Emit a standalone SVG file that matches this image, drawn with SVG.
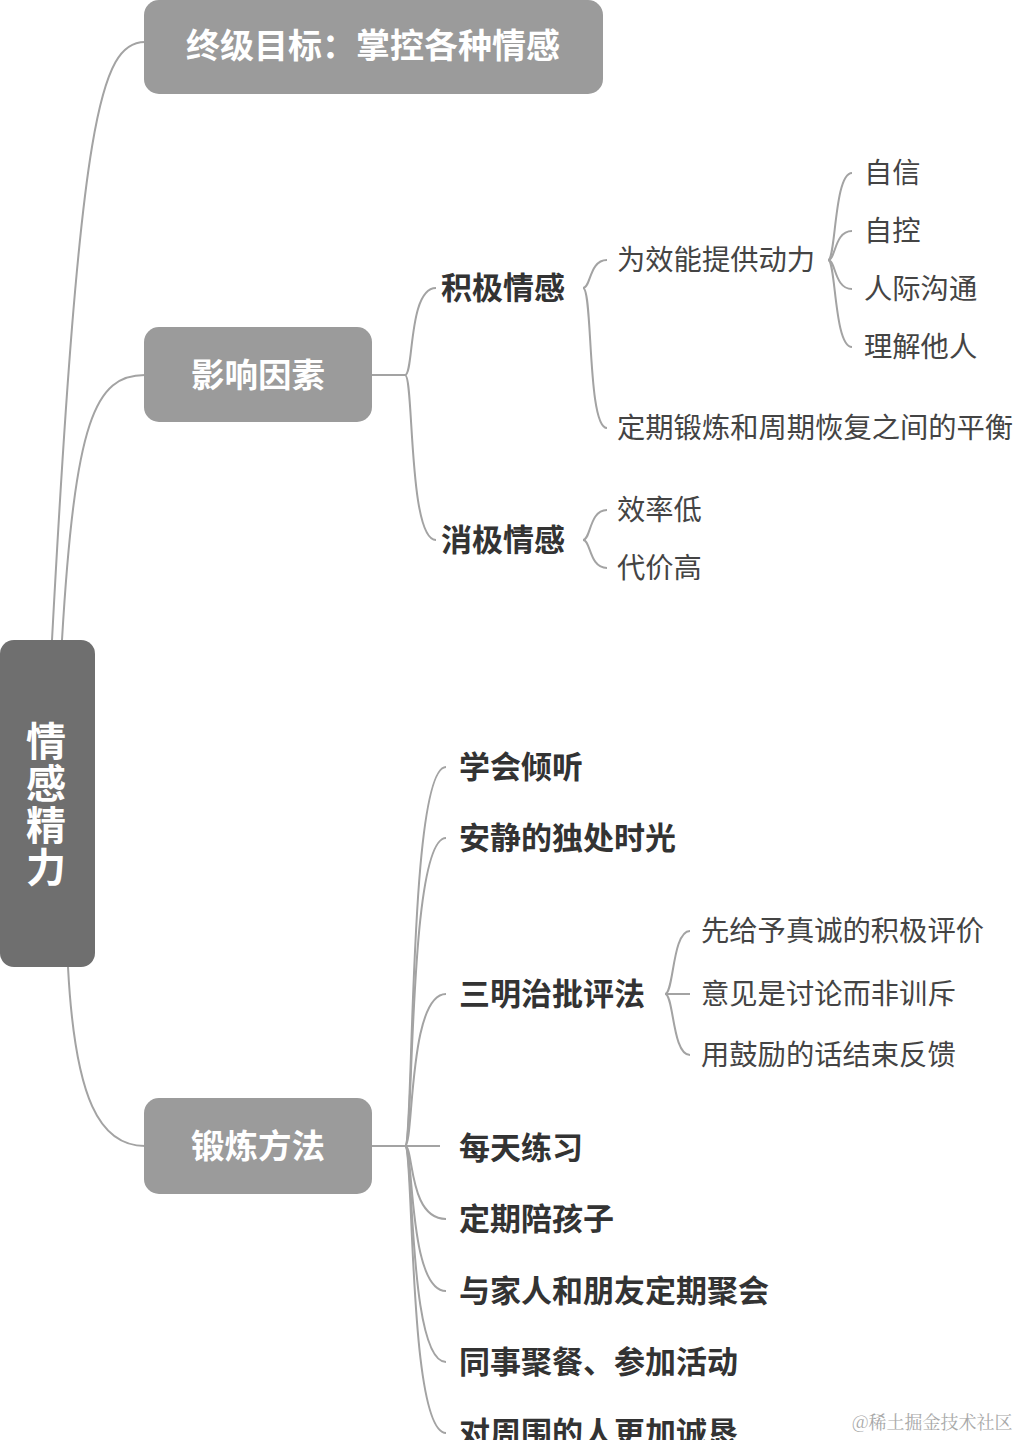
<svg xmlns="http://www.w3.org/2000/svg" width="1018" height="1440" viewBox="0 0 1018 1440">
<style>
.bg{fill:#ffffff}
.root{fill:#6f6f6f}
.main{fill:#9b9b9b}
.lbl-w{font-family:"Noto Sans CJK SC","Noto Sans",sans-serif;fill:#ffffff;font-weight:700}
.sub{font-family:"Noto Sans CJK SC","Noto Sans",sans-serif;fill:#333333;font-weight:700;font-size:31px}
.leaf{font-family:"Noto Sans CJK SC","Noto Sans",sans-serif;fill:#444444;font-size:28.3px}
.wm{font-family:"Noto Serif CJK SC","Noto Sans CJK SC",serif;fill:#a8a8a8;font-size:18px}
.conn path{fill:none;stroke:#a3a3a3;stroke-width:2}
</style>
<rect class="bg" x="0" y="0" width="1018" height="1440"/>
<g id="connectors" class="conn">
<path d="M52,640 C80,120 100,42 145,42"/>
<path d="M62,640 C75,420 95,375 145,375"/>
<path d="M68,967 C75,1100 100,1146 145,1146"/>
<path d="M372,375 L405,375"/>
<path d="M405,375 C414,375 408,288 436,288"/>
<path d="M405,375 C414,375 408,540 436,540"/>
<path d="M583,288 C591,288 589,260 607,260"/>
<path d="M583,288 C593,288 587,428 607,428"/>
<path d="M828,260 C836,260 834,173 852,173"/>
<path d="M828,260 C836,260 834,231 852,231"/>
<path d="M828,260 C836,260 834,289 852,289"/>
<path d="M828,260 C836,260 834,347 852,347"/>
<path d="M583,540 C591,540 589,510 607,510"/>
<path d="M583,540 C591,540 589,568 607,568"/>
<path d="M372,1146 L405,1146"/>
<path d="M405,1146 C414,1146 408,767 446,767"/>
<path d="M405,1146 C414,1146 408,838 446,838"/>
<path d="M405,1146 C414,1146 408,994 446,994"/>
<path d="M405,1146 L440,1146"/>
<path d="M405,1146 C414,1146 408,1219 446,1219"/>
<path d="M405,1146 C414,1146 408,1291 446,1291"/>
<path d="M405,1146 C414,1146 408,1362 446,1362"/>
<path d="M405,1146 C414,1146 408,1433 446,1433"/>
<path d="M665,994 C674,994 672,931 690,931"/>
<path d="M665,994 L690,994"/>
<path d="M665,994 C674,994 672,1055 690,1055"/>
</g>
<g id="root">
<rect class="root" x="0" y="640" width="95" height="327" rx="14"/>
<text class="lbl-w" font-size="40" x="46" y="721" writing-mode="vertical-rl" letter-spacing="2">情感精力</text>
</g>
<g id="goal">
<rect class="main" x="144" y="0" width="459" height="94" rx="15"/>
<text class="lbl-w" font-size="34" text-anchor="middle" x="373" y="58">终级目标：掌控各种情感</text>
</g>
<g id="factors">
<rect class="main" x="144" y="327" width="228" height="95" rx="15"/>
<text class="lbl-w" font-size="33.5" text-anchor="middle" x="258" y="387">影响因素</text>
</g>
<g id="methods">
<rect class="main" x="144" y="1098" width="228" height="96" rx="15"/>
<text class="lbl-w" font-size="33.5" text-anchor="middle" x="258" y="1158">锻炼方法</text>
</g>
<g id="positive"><text class="sub" x="441" y="299">积极情感</text></g>
<g id="negative"><text class="sub" x="441" y="551">消极情感</text></g>
<g id="power"><text class="leaf" x="617" y="270">为效能提供动力</text></g>
<g id="balance"><text class="leaf" x="617" y="438">定期锻炼和周期恢复之间的平衡</text></g>
<g id="confidence"><text class="leaf" x="864" y="183">自信</text></g>
<g id="selfcontrol"><text class="leaf" x="864" y="241">自控</text></g>
<g id="communication"><text class="leaf" x="864" y="299">人际沟通</text></g>
<g id="understand"><text class="leaf" x="864" y="357">理解他人</text></g>
<g id="lowefficiency"><text class="leaf" x="617" y="520">效率低</text></g>
<g id="highcost"><text class="leaf" x="617" y="578">代价高</text></g>
<g id="listen"><text class="sub" x="459" y="778">学会倾听</text></g>
<g id="quiet"><text class="sub" x="459" y="849">安静的独处时光</text></g>
<g id="sandwich"><text class="sub" x="459" y="1005">三明治批评法</text></g>
<g id="praise"><text class="leaf" x="701" y="941">先给予真诚的积极评价</text></g>
<g id="discuss"><text class="leaf" x="701" y="1004">意见是讨论而非训斥</text></g>
<g id="encourage"><text class="leaf" x="701" y="1065">用鼓励的话结束反馈</text></g>
<g id="daily"><text class="sub" x="459" y="1159">每天练习</text></g>
<g id="children"><text class="sub" x="459" y="1230">定期陪孩子</text></g>
<g id="family"><text class="sub" x="459" y="1302">与家人和朋友定期聚会</text></g>
<g id="colleagues"><text class="sub" x="459" y="1373">同事聚餐、参加活动</text></g>
<g id="sincere"><text class="sub" x="459" y="1444">对周围的人更加诚恳</text></g>
<text class="wm" x="852" y="1429">@稀土掘金技术社区</text>
</svg>
